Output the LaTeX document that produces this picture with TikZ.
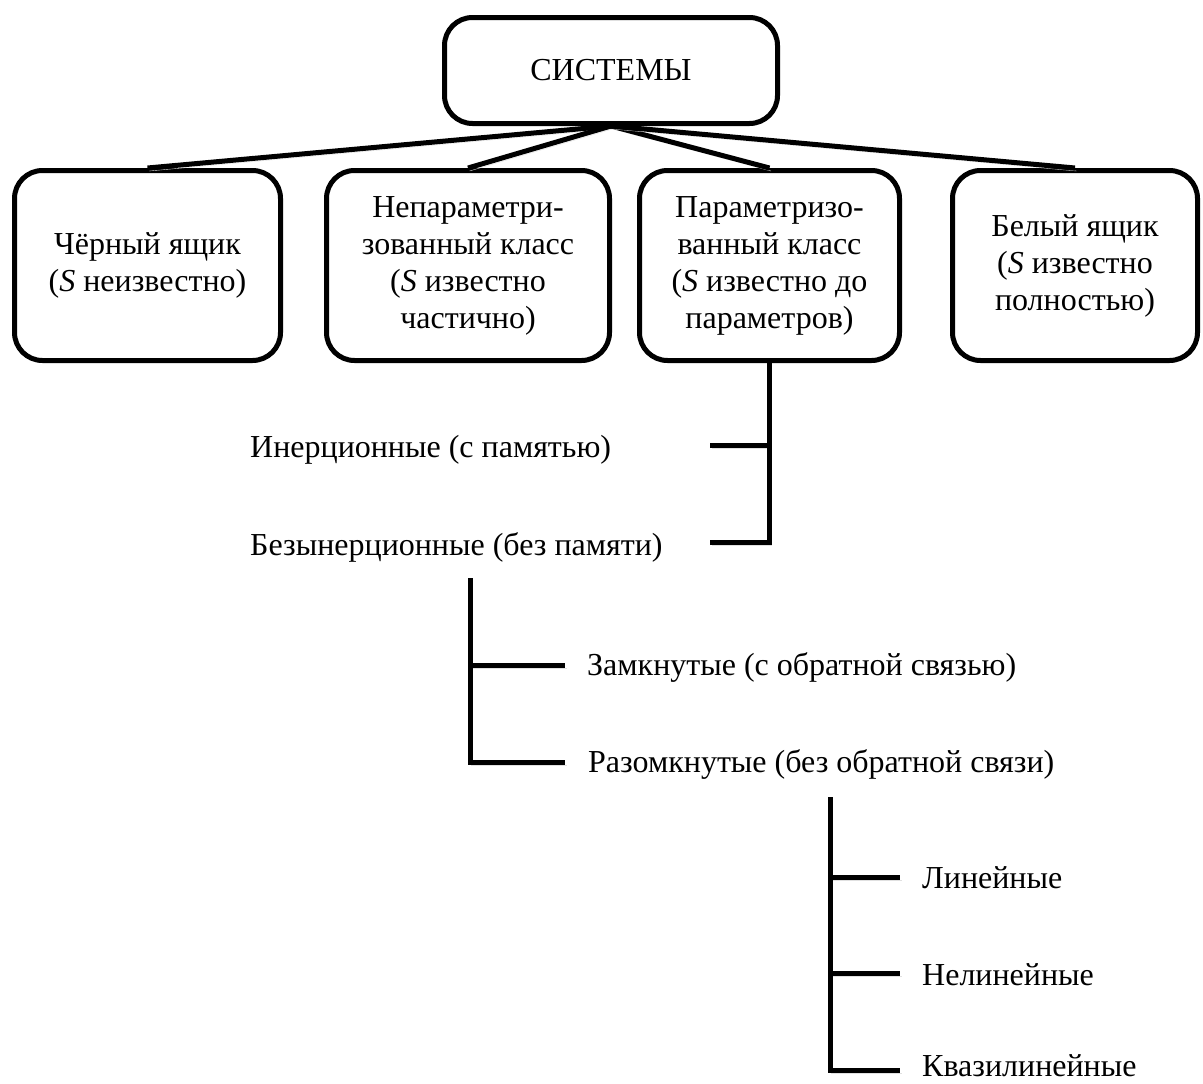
\documentclass[tikz,border=0pt]{standalone}
\usepackage{fontspec}
\setmainfont{Liberation Serif}
\usepackage{tikz}

\tikzset{
  sysbox/.style={draw, line width=5pt, rounded corners=28pt, align=center,
    inner sep=0pt, minimum height=190pt},
  link/.style={line width=5pt,
    preaction={draw=black!12, transform canvas={shift={(1.5pt,-3pt)}}}},
  kind/.style={anchor=base west, inner sep=0pt},
}

\begin{document}
\begin{tikzpicture}[x=1pt, y=-1pt, font=\fontsize{32}{37}\selectfont]
  \useasboundingbox (0,0) rectangle (1203,1084);
  % boxes
  \node[sysbox, minimum width=333pt, minimum height=106pt] (sys) at (611,70.5) {СИСТЕМЫ};
  \node[sysbox, minimum width=266pt] (black) at (147.5,265.5) {Чёрный ящик\\(\textit{S} неизвестно)};
  \node[sysbox, minimum width=283pt] (nonpar) at (468,265.5) {Непараметри-\\зованный класс\\(\textit{S} известно\\частично)};
  \node[sysbox, minimum width=260pt] (par) at (769.5,265.5) {Параметризо-\\ванный класс\\(\textit{S} известно до\\параметров)};
  \node[sysbox, minimum width=245pt] (white) at (1075,265.5) {Белый ящик\\(\textit{S} известно\\полностью)};
  \foreach \b in {black,nonpar,par,white}
    \draw[link] (sys.south) -- (\b.north);

  % inertia
  \node[kind] (inert) at (250,457) {Инерционные (с памятью)};
  \node[kind] (noinert) at (250,555) {Безынерционные (без памяти)};
  \coordinate (t1) at (710,445);
  \coordinate (t2) at (710,542);
  \draw[link] (par.south |- t1) -- (t1);
  \draw[link] (par.south) |- (t2);

  % feedback
  \node[kind] (closed) at (587,675) {Замкнутые (с обратной связью)};
  \node[kind] (open) at (588,772) {Разомкнутые (без обратной связи)};
  \coordinate (s2) at (470,578);
  \coordinate (t3) at (565,665);
  \coordinate (t4) at (565,762);
  \draw[link] (s2 |- t3) -- (t3);
  \draw[link] (s2) |- (t4);

  % linearity
  \node[kind] (lin) at (922,888) {Линейные};
  \node[kind] (nonlin) at (922,985) {Нелинейные};
  \node[kind] (quasi) at (922,1076) {Квазилинейные};
  \coordinate (s3) at (830,797);
  \coordinate (t5) at (900,877);
  \coordinate (t6) at (900,973);
  \coordinate (t7) at (900,1070);
  \foreach \t in {t5,t6}
    \draw[link] (s3 |- \t) -- (\t);
  \draw[link] (s3) |- (t7);
\end{tikzpicture}
\end{document}
